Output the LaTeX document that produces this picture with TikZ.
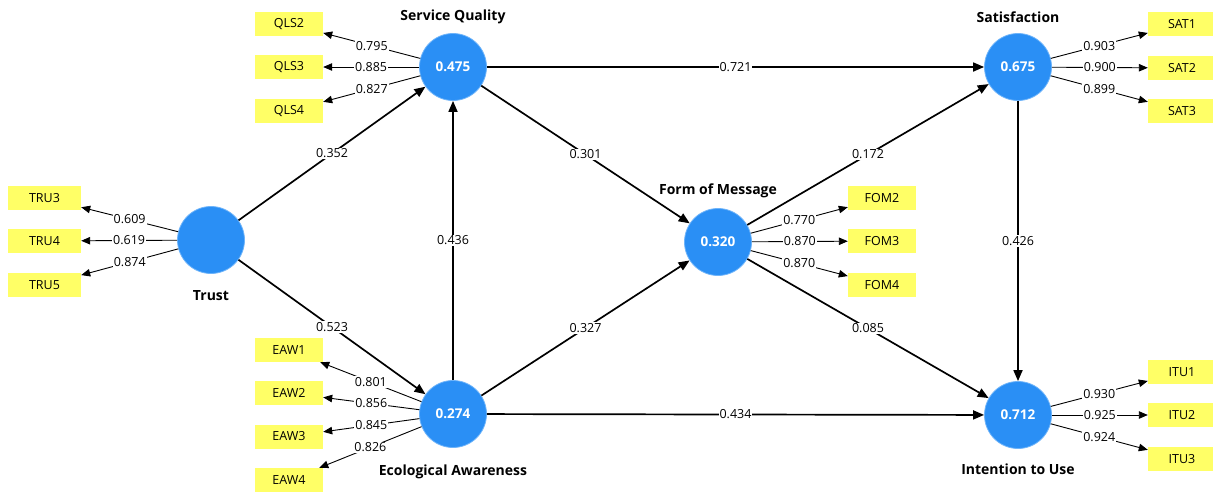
\documentclass[tikz,border=0pt]{standalone}
\usepackage{fontspec}
\setmainfont{Open Sans}
\usetikzlibrary{arrows.meta}
\definecolor{lvblue}{RGB}{42,143,245}
\definecolor{lvedge}{RGB}{110,180,250}
\definecolor{indyellow}{RGB}{255,255,102}
\tikzset{
  lv/.style={circle,minimum size=67pt,inner sep=0pt,fill=lvblue,draw=lvedge,line width=0.8pt,text=white,font=\fontsize{13.5}{15}\selectfont\bfseries},
  ind/.style={rectangle,fill=indyellow,minimum width=68pt,minimum height=24pt,inner sep=0pt,font=\fontsize{12.5}{14}\selectfont},
  wide/.style={minimum width=73pt},
  nm/.style={font=\fontsize{14}{16}\selectfont\bfseries,inner sep=0pt},
  path/.style={line width=1.7pt,-{Triangle[length=11pt,width=9pt]}},
  load/.style={line width=0.9pt,-{Triangle[length=9pt,width=7.5pt]}},
  lab/.style={fill=white,inner sep=1pt,font=\fontsize{12.5}{13}\selectfont},
}
\begin{document}
\begin{tikzpicture}[x=1pt,y=-1pt]
\useasboundingbox[fill=white] (0,0) rectangle (1213,491);
% latent variables
\node[lv] (sq) at (453,67) {0.475};
\node[lv] (tr) at (211,240) {};
\node[lv] (ea) at (453,414) {0.274};
\node[lv] (fm) at (718,242) {0.320};
\node[lv] (sa) at (1018,67) {0.675};
\node[lv] (it) at (1018,415) {0.712};
% names
\node[nm] (sqn) at (453,17) {Service Quality};
\node[nm] (trn) at (211,296) {Trust};
\node[nm] (ean) at (453,472) {Ecological Awareness};
\node[nm] (fmn) at (718,191) {Form of Message};
\node[nm] (san) at (1018,17) {Satisfaction};
\node[nm] (itn) at (1018,469) {Intention to Use};
% indicators
\node[ind] (qls2) at (289,24) {QLS2};
\node[ind] (qls3) at (289,67) {QLS3};
\node[ind] (qls4) at (289,111) {QLS4};
\node[ind,wide] (tru3) at (44.5,198) {TRU3};
\node[ind,wide] (tru4) at (44.5,241) {TRU4};
\node[ind,wide] (tru5) at (44.5,285) {TRU5};
\node[ind] (eaw1) at (289,350) {EAW1};
\node[ind] (eaw2) at (289,393) {EAW2};
\node[ind] (eaw3) at (289,436.5) {EAW3};
\node[ind] (eaw4) at (289,480) {EAW4};
\node[ind] (fom2) at (882,198) {FOM2};
\node[ind] (fom3) at (882,241) {FOM3};
\node[ind] (fom4) at (882,285) {FOM4};
\node[ind] (sat1) at (1182,24) {SAT1};
\node[ind] (sat2) at (1182,68) {SAT2};
\node[ind] (sat3) at (1182,111) {SAT3};
\node[ind] (itu1) at (1182,372) {ITU1};
\node[ind] (itu2) at (1182,415) {ITU2};
\node[ind] (itu3) at (1182,459) {ITU3};
% structural paths
\draw[path] (sq) -- node[lab]{0.721} (sa);
\draw[path] (tr) -- node[lab]{0.352} (sq);
\draw[path] (tr) -- node[lab]{0.523} (ea);
\draw[path] (ea) -- node[lab]{0.436} (sq);
\draw[path] (sq) -- node[lab]{0.301} (fm);
\draw[path] (ea) -- node[lab]{0.327} (fm);
\draw[path] (ea) -- node[lab]{0.434} (it);
\draw[path] (fm) -- node[lab]{0.172} (sa);
\draw[path] (fm) -- node[lab]{0.085} (it);
\draw[path] (sa) -- node[lab]{0.426} (it);
% loadings
\draw[load] (sq) -- node[lab]{0.795} (qls2);
\draw[load] (sq) -- node[lab]{0.885} (qls3);
\draw[load] (sq) -- node[lab]{0.827} (qls4);
\draw[load] (tr) -- node[lab]{0.609} (tru3);
\draw[load] (tr) -- node[lab]{0.619} (tru4);
\draw[load] (tr) -- node[lab]{0.874} (tru5);
\draw[load] (ea) -- node[lab]{0.801} (eaw1);
\draw[load] (ea) -- node[lab]{0.856} (eaw2);
\draw[load] (ea) -- node[lab]{0.845} (eaw3);
\draw[load] (ea) -- node[lab]{0.826} (eaw4);
\draw[load] (fm) -- node[lab]{0.770} (fom2);
\draw[load] (fm) -- node[lab]{0.870} (fom3);
\draw[load] (fm) -- node[lab]{0.870} (fom4);
\draw[load] (sa) -- node[lab]{0.903} (sat1);
\draw[load] (sa) -- node[lab]{0.900} (sat2);
\draw[load] (sa) -- node[lab]{0.899} (sat3);
\draw[load] (it) -- node[lab]{0.930} (itu1);
\draw[load] (it) -- node[lab]{0.925} (itu2);
\draw[load] (it) -- node[lab]{0.924} (itu3);
\end{tikzpicture}
\end{document}
